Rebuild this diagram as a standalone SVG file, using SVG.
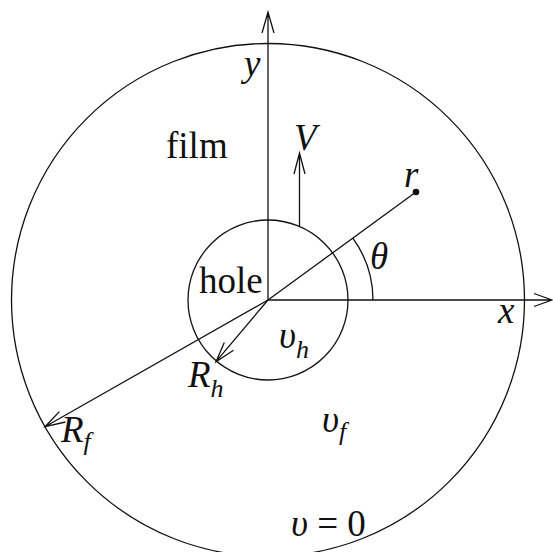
<svg xmlns="http://www.w3.org/2000/svg" width="553" height="552" viewBox="0 0 553 552">
<style>
.ln{fill:none;stroke:#111;stroke-width:1.3}
text{font-family:"Liberation Serif",serif;font-size:37px;fill:#111}
.i{font-style:italic}
.s{font-size:26px}
</style>
<rect width="553" height="552" fill="#fff"/>
<g id="film" font-family="Liberation Serif">
<circle class="ln" cx="268" cy="300" r="256.5"/>
<text font-family="Liberation Serif" x="166" y="158">film</text>
<text font-family="Liberation Serif" class="i" x="322" y="432">υ<tspan class="s" dy="8">f</tspan></text>
<text font-family="Liberation Serif" class="i" x="291" y="536">υ <tspan font-style="normal">= 0</tspan></text>
</g>
<g id="hole" font-family="Liberation Serif">
<circle class="ln" cx="268" cy="300" r="80"/>
<text font-family="Liberation Serif" x="199" y="293">hole</text>
<text font-family="Liberation Serif" class="i" x="279" y="348">υ<tspan class="s" dy="10">h</tspan></text>
</g>
<g id="connectors">
<path class="ln" d="M268,300V12M262,33L268,12L274,33"/>
<path class="ln" d="M268,300H552M534,293.5L552,300L534,306.5"/>
<path class="ln" d="M299.5,227V153M294,174L299.5,153L305,174"/>
<path class="ln" d="M268,300L416,192"/>
<circle cx="416" cy="192" r="3.3" fill="#111"/>
<path class="ln" d="M373,300A105,105 0 0 0 352.8,238.2"/>
<path class="ln" d="M268,300L216,361.7M233.5,350.3L216,361.7L224.3,342.5"/>
<path class="ln" d="M268,300L45,426.7M65.4,422L45,426.7L59.4,411.6"/>
</g>
<g id="labels" font-family="Liberation Serif">
<text font-family="Liberation Serif" class="i" x="244" y="76">y</text>
<text font-family="Liberation Serif" class="i" x="294" y="150">V</text>
<text font-family="Liberation Serif" class="i" x="404" y="187">r</text>
<text font-family="Liberation Serif" class="i" x="370" y="269">θ</text>
<text font-family="Liberation Serif" class="i" x="498" y="323">x</text>
<text font-family="Liberation Serif" class="i" x="188" y="387">R<tspan class="s" dy="10">h</tspan></text>
<text font-family="Liberation Serif" class="i" x="61" y="442">R<tspan class="s" dy="8">f</tspan></text>
</g>
</svg>
